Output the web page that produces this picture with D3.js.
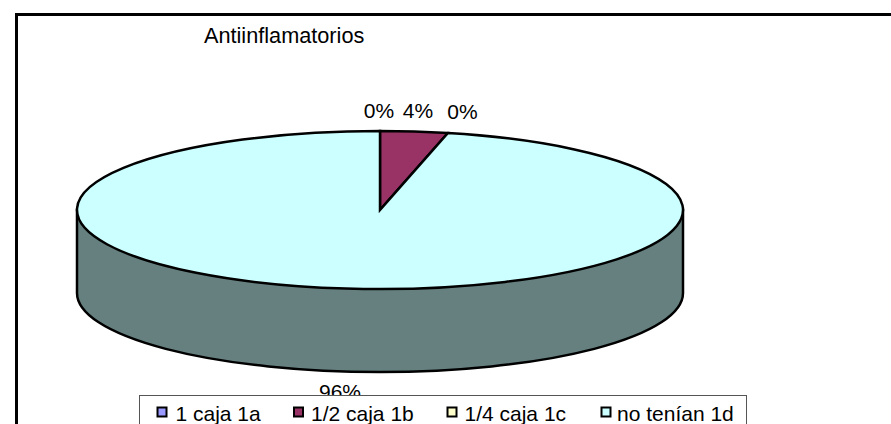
<!DOCTYPE html>
<html><head><meta charset="utf-8">
<script src="https://cdn.jsdelivr.net/npm/d3@7/dist/d3.min.js"></script>
<style>html,body{margin:0;padding:0;background:#fff}svg{display:block}text{font-family:"Liberation Sans",Arial,sans-serif;fill:#000}</style>
</head><body><svg id="c" width="891" height="424"></svg>
<script>
const categories = ["1 caja 1a","1/2 caja 1b","1/4 caja 1c","no tenían 1d"];
const values = [0, 3.6, 0, 96.4];
const colors = ["#9999ff","#993366","#ffffcc","#ccffff"];
const sideColor = "#668080";
const titleText = "Antiinflamatorios";

const W=891,H=424,cx=380,cy=210,rx=303,ry=79,depth=83;
const svg=d3.select("#c");
svg.append("rect").attr("x",16.5).attr("y",14.5).attr("width",W+20).attr("height",H+20).attr("fill","#fff").attr("stroke","#000").attr("stroke-width",3);
svg.append("text").attr("x",204).attr("y",43).attr("font-size",21.7).text(titleText);

// side wall
svg.append("path").attr("d",`M${cx-rx},${cy}V${cy+depth}A${rx},${ry} 0 0 0 ${cx+rx},${cy+depth}V${cy}Z`)
  .attr("fill",sideColor).attr("stroke","#000").attr("stroke-width",2.5);

const pie=d3.pie().sort(null).value(d=>d)(values);
const arc=d3.arc().innerRadius(0).outerRadius(rx);
const g=svg.append("g").attr("transform",`translate(${cx},${cy}) scale(1,${ry/rx})`);
g.selectAll("path").data(pie).join("path").attr("d",arc)
  .attr("fill",(d,i)=>colors[i]).attr("stroke","#000").attr("stroke-width",2.5)
  .attr("vector-effect","non-scaling-stroke");

// data labels
const fmt=v=>d3.format(".0f")(v)+"%";
const labelX=[379,418,462.5,340], labelY=[118,118,119,399];
svg.append("g").selectAll("text").data(values).join("text")
  .attr("x",(d,i)=>labelX[i]).attr("y",(d,i)=>labelY[i]).attr("text-anchor","middle").attr("font-size",21)
  .text(fmt);

// legend
const lg=svg.append("g");
lg.append("rect").attr("x",139.5).attr("y",395.5).attr("width",607).attr("height",34).attr("fill","#fff").attr("stroke","#555").attr("stroke-width",1);
const sx=[162,298.5,452,606], tx=[175.5,311,464.5,617];
categories.forEach((c,i)=>{
  lg.append("rect").attr("x",sx[i]-4.5).attr("y",407.5).attr("width",9).attr("height",9).attr("fill",colors[i]).attr("stroke","#000").attr("stroke-width",2);
  lg.append("text").attr("x",tx[i]).attr("y",421).attr("font-size",21).text(c);
});
</script></body></html>
